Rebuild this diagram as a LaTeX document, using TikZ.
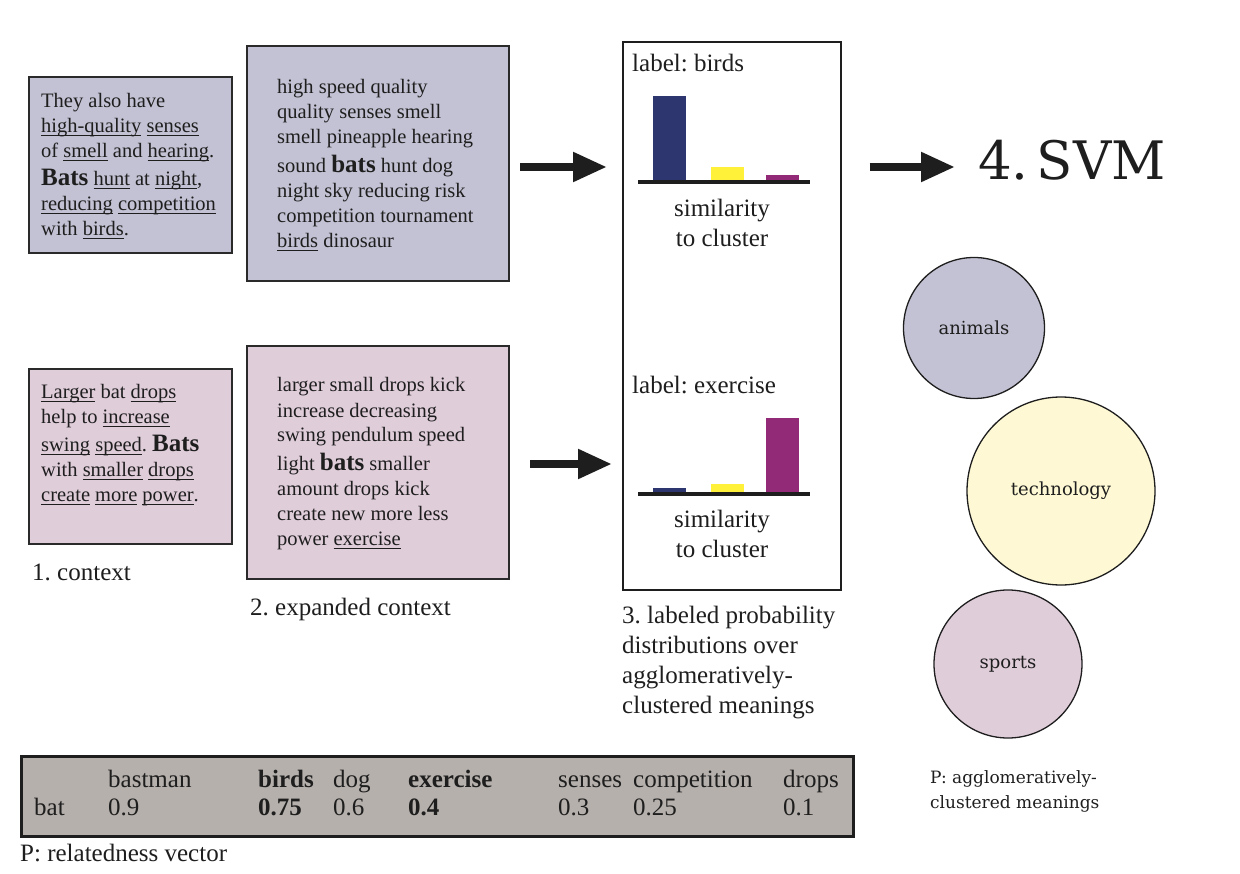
\documentclass[tikz,border=0pt]{standalone}
\usepackage{fontspec}
\setmainfont{Liberation Serif}
\newfontfamily\dejaserif{DejaVu Serif}
\usetikzlibrary{arrows.meta}
\frenchspacing
\newsavebox\ulbox
\newcommand\uw[1]{\sbox\ulbox{#1}\rlap{\rule[-2.6pt]{\wd\ulbox}{0.9pt}}\usebox\ulbox}
\newcommand\bigb[1]{{\fontsize{25}{25}\selectfont\bfseries #1}}
\definecolor{lav}{HTML}{C3C2D4}
\definecolor{pnk}{HTML}{E0CDDA}
\definecolor{tblgray}{HTML}{B5B0AC}
\definecolor{navybar}{HTML}{2E3670}
\definecolor{yelbar}{HTML}{FFF03A}
\definecolor{purbar}{HTML}{922A78}
\definecolor{techy}{HTML}{FEF9D4}
\definecolor{edgec}{HTML}{2A2A2A}
\definecolor{ink}{HTML}{1E1E1E}
\tikzset{
  ctxbox/.style={draw=edgec, line width=2pt, inner sep=0pt, anchor=north west},
  boxtxt/.style={anchor=base west, inner sep=0pt, text=ink, font=\fontsize{20.5}{25}\selectfont},
  lbl/.style={anchor=base west, inner sep=0pt, text=ink, font=\fontsize{25}{30}\selectfont},
  tcell/.style={anchor=base west, inner sep=0pt, text=ink, font=\fontsize{25}{28}\selectfont},
  bigarrow/.style={draw=ink, line width=8pt, -{Triangle[length=34pt,width=28pt]}},
  cluster/.style={circle, draw=ink, line width=1.3pt, inner sep=0pt, text=ink, font=\dejaserif\fontsize{18}{20}\selectfont},
  axisline/.style={draw=ink, line width=4pt},
}
\begin{document}
\begin{tikzpicture}[x=1pt, y=-1pt]
\useasboundingbox (0,0) rectangle (1240,874);

% --- context boxes
\node[ctxbox, fill=lav, minimum width=203, minimum height=176] (ctx1) at (28,76) {};
\node[boxtxt] (ctx1t) at (41,108) {\begin{tabular}[t]{@{}l@{}}
They also have\\
\uw{high-quality} \uw{senses}\\
of \uw{smell} and \uw{hearing}.\\[3pt]
\bigb{Bats} \uw{hunt} at \uw{night},\\
\uw{reducing} \uw{competition}\\
with \uw{birds}.
\end{tabular}};

\node[ctxbox, fill=lav, minimum width=262, minimum height=235] (exp1) at (246,45) {};
\node[boxtxt] (exp1t) at (277,94) {\begin{tabular}[t]{@{}l@{}}
high speed quality\\
quality senses smell\\
smell pineapple hearing\\[4pt]
sound \bigb{bats} hunt dog\\
night sky reducing risk\\
competition tournament\\
\uw{birds} dinosaur
\end{tabular}};

\node[ctxbox, fill=pnk, minimum width=203, minimum height=175] (ctx2) at (28,368) {};
\node[boxtxt] (ctx2t) at (41,399) {\begin{tabular}[t]{@{}l@{}}
\uw{Larger} bat \uw{drops}\\
help to \uw{increase}\\[3pt]
\uw{swing} \uw{speed}. \bigb{Bats}\\
with \uw{smaller} \uw{drops}\\
\uw{create} \uw{more} \uw{power}.
\end{tabular}};

\node[ctxbox, fill=pnk, minimum width=262, minimum height=233] (exp2) at (246,345) {};
\node[boxtxt] (exp2t) at (277,392) {\begin{tabular}[t]{@{}l@{}}
larger small drops kick\\
increase decreasing\\
swing pendulum speed\\[4pt]
light \bigb{bats} smaller\\
amount drops kick\\
create new more less\\
power \uw{exercise}
\end{tabular}};

\node[lbl] (cap1) at (32,580) {1. context};
\node[lbl] (cap2) at (250,615) {2. expanded context};

% --- probability panel
\node[draw=ink, line width=1.6pt, fill=white, inner sep=0pt, anchor=north west,
      minimum width=218, minimum height=548] (prob) at (622,41) {};
\node[lbl] (lab1) at (632,72) {label: birds};
\fill[navybar] (653,182) rectangle (686,96);
\fill[yelbar] (711,182) rectangle (744,167);
\fill[purbar] (766,182) rectangle (799,175);
\draw[axisline] (638,182) -- (810,182);
\node[lbl, anchor=base] (sim1) at (722,217) {\begin{tabular}[t]{@{}c@{}}similarity\\to cluster\end{tabular}};

\node[lbl] (lab2) at (632,394) {label: exercise};
\fill[navybar] (653,494) rectangle (686,488);
\fill[yelbar] (711,494) rectangle (744,484);
\fill[purbar] (766,494) rectangle (799,418);
\draw[axisline] (638,494) -- (810,494);
\node[lbl, anchor=base] (sim2) at (722,527) {\begin{tabular}[t]{@{}c@{}}similarity\\to cluster\end{tabular}};

\node[lbl] (cap3) at (622,623) {\begin{tabular}[t]{@{}l@{}}3. labeled probability\\distributions over\\agglomeratively-\\clustered meanings\end{tabular}};

% --- SVM
\node[anchor=base west, inner sep=0pt, text=ink, font=\dejaserif\fontsize{53}{60}\selectfont] (svm) at (978,180) {4.\hspace{8pt}SVM};

% --- arrows
\coordinate (ra) at (0,167);
\coordinate (rb) at (0,464);
\draw[bigarrow, shorten <=10pt, shorten >=15pt] (exp1.east |- ra) -- (prob.west |- ra);
\draw[bigarrow, shorten <=20pt, shorten >=10pt] (exp2.east |- rb) -- (prob.west |- rb);
\draw[bigarrow, shorten <=28pt, shorten >=23pt] (prob.east |- ra) -- (svm.west |- ra);

% --- clusters
\node[cluster, fill=lav, minimum size=141] (animals) at (974,328) {animals};
\node[cluster, fill=techy, minimum size=188] (tech) at (1061,491) {technology};
\node[cluster, fill=pnk, minimum size=148] (sports) at (1008,664) {sports};
\node[anchor=base west, inner sep=0pt, text=ink, font=\dejaserif\fontsize{17}{25}\selectfont] (capP) at (930,783)
  {\begin{tabular}[t]{@{}l@{}}P: agglomeratively-\\clustered meanings\end{tabular}};

% --- relatedness table
\node[draw=ink, line width=3pt, fill=tblgray, inner sep=0pt, anchor=north west,
      minimum width=832, minimum height=80] (tbl) at (20,755) {};
\node[tcell] (rowbat) at (34,815) {bat};
\node[tcell] (h1) at (108,787) {bastman};
\node[tcell] (v1) at (108,815) {0.9};
\node[tcell] (h2) at (258,787) {\textbf{birds}};
\node[tcell] (v2) at (258,815) {\textbf{0.75}};
\node[tcell] (h3) at (333,787) {dog};
\node[tcell] (v3) at (333,815) {0.6};
\node[tcell] (h4) at (408,787) {\textbf{exercise}};
\node[tcell] (v4) at (408,815) {\textbf{0.4}};
\node[tcell] (h5) at (558,787) {senses};
\node[tcell] (v5) at (558,815) {0.3};
\node[tcell] (h6) at (633,787) {competition};
\node[tcell] (v6) at (633,815) {0.25};
\node[tcell] (h7) at (783,787) {drops};
\node[tcell] (v7) at (783,815) {0.1};
\node[tcell] (capR) at (20,861) {P: relatedness vector};
\end{tikzpicture}
\end{document}
